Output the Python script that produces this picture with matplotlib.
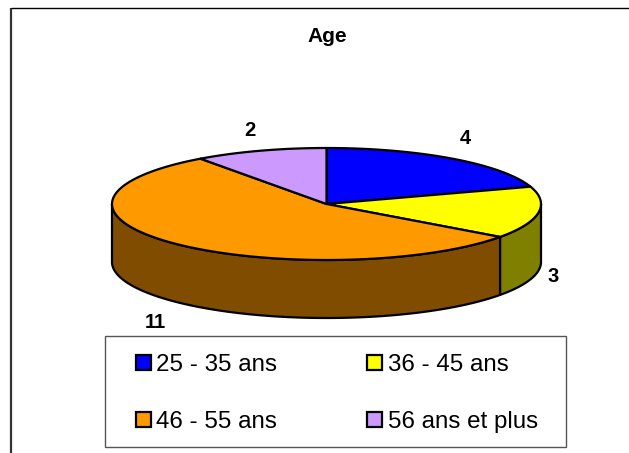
import numpy as np
from matplotlib import pyplot as plt
from matplotlib.patches import Rectangle

labels = ['25 - 35 ans', '36 - 45 ans', '46 - 55 ans', '56 ans et plus']
values = [4, 3, 11, 2]
colors = ['#0000ff', '#ffff00', '#ff9900', '#cc99ff']
side_colors = ['#000080', '#808000', '#804d00', '#664d80']
title = 'Age'

plt.rcParams['font.family'] = ['Liberation Sans', 'DejaVu Sans']

W, H = 629, 453
fig = plt.figure(figsize=(W / 100, H / 100), dpi=100)
ax = fig.add_axes([0, 0, 1, 1])
ax.set_xlim(0, W)
ax.set_ylim(H, 0)
ax.axis('off')

# ellipse of the pie in pixels
cx, cy, rx, ry, depth = 326.5, 204, 214.5, 56, 58


def ell(a):
    # a = angle clockwise from the top
    return cx + rx * np.sin(a), cy - ry * np.cos(a)


# chart frame, open on right and bottom sides like the picture
ax.plot([10.5, 10.5], [453, 8], color='#333333', lw=1.6, solid_capstyle='butt')
ax.plot([10.5, 629], [8, 8], color='black', lw=1.0, solid_capstyle='butt')

edges = np.cumsum([0] + values) / sum(values) * 2 * np.pi

# side wall, only the front half is visible
for i in range(len(values)):
    a0 = max(edges[i], np.pi / 2)
    a1 = min(edges[i + 1], 3 * np.pi / 2)
    if a1 <= a0:
        continue
    t = np.linspace(a0, a1, 100)
    x, y = ell(t)
    xs = np.r_[x, x[::-1]]
    ys = np.r_[y, y[::-1] + depth]
    ax.fill(xs, ys, fc=side_colors[i], ec='black', lw=1.6, joinstyle='round', zorder=2)

# top face
for i in range(len(values)):
    t = np.linspace(edges[i], edges[i + 1], 150)
    x, y = ell(t)
    ax.fill(np.r_[cx, x], np.r_[cy, y], fc=colors[i], ec='black', lw=1.6, joinstyle='round', zorder=3)

# value labels (baseline positions)
label_pos = [(465, 144), (553.5, 282), (155, 328), (250, 136)]
for v, (lx, ly) in zip(values, label_pos):
    ax.text(lx, ly, str(v), ha='center', va='baseline', fontsize=14.5, fontweight='bold')

ax.text(327, 42, title, ha='center', va='baseline', fontsize=15, fontweight='bold')

# legend
ax.add_patch(Rectangle((105, 336), 461, 111, fc='white', ec='#555555', lw=1.0, zorder=4))
legend_pos = [(136, 362.5), (367, 362.5), (136, 419), (367, 419)]
text_base = [371, 371, 427.5, 428]
for name, c, (lx, ly), by in zip(labels, colors, legend_pos, text_base):
    ax.add_patch(Rectangle((lx, ly - 7.5), 15, 15, fc=c, ec='black', lw=1.6, zorder=5))
    ax.text(lx + 20.5, by, name, ha='left', va='baseline', fontsize=17.4, zorder=5)

plt.savefig('out.png', dpi=100)
